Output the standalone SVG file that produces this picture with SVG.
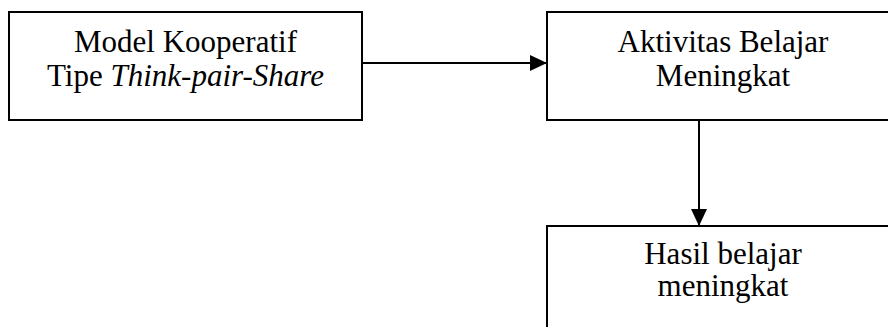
<svg xmlns="http://www.w3.org/2000/svg" width="888" height="327" viewBox="0 0 888 327">
<style>
.box{fill:#fff;stroke:#000;stroke-width:2}
.t{font-size:31px;fill:#000;text-anchor:middle}
.c{stroke:#000;stroke-width:2;fill:none}
</style>
<defs>
<marker id="ah" markerUnits="userSpaceOnUse" markerWidth="18" markerHeight="16" refX="17" refY="8" orient="auto">
<path d="M0,0 L17,8 L0,16 Z" fill="#000"/>
</marker>
</defs>
<rect width="888" height="327" fill="#fff"/>
<g id="connectors">
<line class="c" x1="362" y1="63" x2="547" y2="63" marker-end="url(#ah)"/>
<line class="c" x1="699" y1="120" x2="699" y2="226" marker-end="url(#ah)"/>
</g>
<g font-family="'Liberation Serif', 'Times New Roman', 'DejaVu Serif', serif">
<g id="node-model">
<rect class="box" x="9" y="12" width="353" height="108"/>
<text class="t" x="185.5" y="52">Model Kooperatif</text>
<text class="t" x="185.5" y="86">Tipe <tspan font-style="italic">Think-pair-Share</tspan></text>
</g>
<g id="node-aktivitas">
<rect class="box" x="547" y="12" width="352" height="108"/>
<text class="t" x="723" y="52">Aktivitas Belajar</text>
<text class="t" x="723" y="86">Meningkat</text>
</g>
<g id="node-hasil">
<rect class="box" x="547" y="226" width="352" height="120"/>
<text class="t" x="723" y="264">Hasil belajar</text>
<text class="t" x="723" y="296">meningkat</text>
</g>
</g>
</svg>
